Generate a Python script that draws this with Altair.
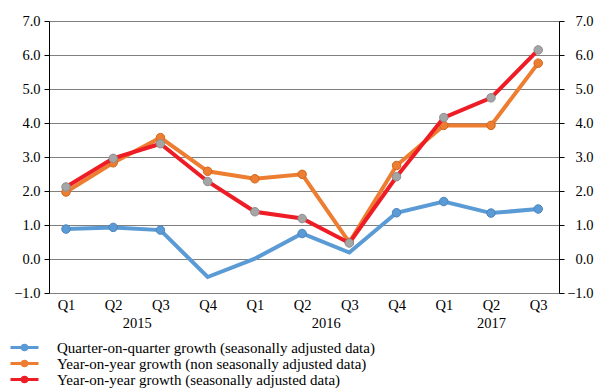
import altair as alt
import pandas as pd

quarters = ["Q1", "Q2", "Q3", "Q4", "Q1", "Q2", "Q3", "Q4", "Q1", "Q2", "Q3"]
years = [2015, 2015, 2015, 2015, 2016, 2016, 2016, 2016, 2017, 2017, 2017]
qoq = [0.88, 0.93, 0.85, -0.53, 0.01, 0.75, 0.19, 1.36, 1.69, 1.35, 1.47]
qoq_marked = [True, True, True, False, False, True, False, True, True, True, True]
yoy_nsa = [1.97, 2.83, 3.57, 2.58, 2.36, 2.49, 0.49, 2.75, 3.93, 3.93, 5.76]
yoy_sa = [2.12, 2.96, 3.39, 2.28, 1.39, 1.19, 0.47, 2.42, 4.16, 4.74, 6.15]

series_names = [
    "Quarter-on-quarter growth (seasonally adjusted data)",
    "Year-on-year growth (non seasonally adjusted data)",
    "Year-on-year growth (seasonally adjusted data)",
]
series_colors = ["#5B9BD5", "#ED7D31", "#EE1C25"]
marker_fill = ["#5B9BD5", "#ED7D31", "#A5A5A5"]
marker_stroke = ["#4A84BD", "#D0681E", "#8E8E8E"]
y_ticks = [-1, 0, 1, 2, 3, 4, 5, 6, 7]

rows = []
for name, vals, marks in zip(series_names, [qoq, yoy_nsa, yoy_sa],
                             [qoq_marked, [True] * len(yoy_nsa), [True] * len(yoy_sa)]):
    for i, (v, m) in enumerate(zip(vals, marks)):
        rows.append({"idx": i, "series": name, "value": v, "marked": m})
df = pd.DataFrame(rows)

year_list = sorted(set(years))
year_pos = [sum(i for i, y in enumerate(years) if y == yr) / years.count(yr) for yr in year_list]
q_expr = "[" + ",".join("'%s'" % q for q in quarters) + "][datum.value]"
y_expr = "{" + ",".join("'%g':'%d'" % (p, yr) for p, yr in zip(year_pos, year_list)) + "}[''+datum.value]"

FONT = "Liberation Serif, Times New Roman, Times, Nimbus Roman, DejaVu Serif, serif"
AX_FS = 14.5
xscale = alt.Scale(domain=[-0.36, 10.44], nice=False, zero=False)
yscale = alt.Scale(domain=[-1, 7], nice=False, zero=False)

x_q = alt.X("idx:Q", scale=xscale, title=None,
            axis=alt.Axis(orient="bottom", values=list(range(len(quarters))), labelExpr=q_expr,
                          grid=False, domain=False, ticks=False, labelPadding=5,
                          labelFont=FONT, labelFontSize=AX_FS, labelColor="#000000"))
x_plain = alt.X("idx:Q", scale=xscale, axis=None)
y_left = alt.Y("value:Q", scale=yscale, title=None,
               axis=alt.Axis(orient="left", values=y_ticks, format=".1f", grid=True,
                             gridColor="#7f7f7f", gridWidth=1, domainColor="#000000",
                             tickColor="#000000", tickSize=5, labelPadding=4,
                             labelFont=FONT, labelFontSize=AX_FS, labelColor="#000000"))
y_plain = alt.Y("value:Q", scale=yscale, axis=None)

legend_path = ("M-2.8,0L2.8,0"
               "M-0.45,0A0.45,0.45,0,1,0,0.45,0A0.45,0.45,0,1,0,-0.45,0"
               "M-0.15,0A0.15,0.15,0,1,0,0.15,0A0.15,0.15,0,1,0,-0.15,0")
leg = alt.Legend(title=None, orient="none", legendX=-40, legendY=319, direction="vertical",
                 symbolType=legend_path, symbolSize=100, symbolStrokeWidth=3,
                 labelFont=FONT, labelFontSize=15, labelColor="#000000", labelOffset=25,
                 rowPadding=-1, padding=0, symbolOffset=8, labelLimit=500)
color_enc = alt.Color("series:N", scale=alt.Scale(domain=series_names, range=series_colors), legend=leg)

base = alt.Chart(df)


def line_layer(k, x_enc, y_enc):
    return base.transform_filter(alt.datum.series == series_names[k]).mark_line(strokeWidth=4).encode(
        x=x_enc, y=y_enc, color=color_enc)


def point_layer(k):
    return base.transform_filter(alt.datum.series == series_names[k]).transform_filter(
        alt.datum.marked).mark_point(
        filled=True, size=72, opacity=1, strokeWidth=1,
        fill=marker_fill[k], stroke=marker_stroke[k]).encode(x=x_plain, y=y_plain)


year_axis = base.mark_point(opacity=0).encode(
    x=alt.X("idx:Q", scale=xscale, title=None,
            axis=alt.Axis(orient="bottom", values=year_pos, labelExpr=y_expr, grid=False,
                          domain=False, ticks=False, labelPadding=23,
                          labelFont=FONT, labelFontSize=AX_FS, labelColor="#000000")),
    y=y_plain)

right_axis = base.mark_point(opacity=0).encode(
    x=x_plain,
    y=alt.Y("value:Q", scale=yscale, title=None,
            axis=alt.Axis(orient="right", values=y_ticks, format=".1f", grid=False,
                          domainColor="#000000", tickColor="#000000", tickSize=5,
                          labelPadding=29, labelAlign="right",
                          labelFont=FONT, labelFontSize=AX_FS, labelColor="#000000")))

chart = alt.layer(
    line_layer(0, x_q, y_left),
    point_layer(0),
    line_layer(1, x_plain, y_plain),
    point_layer(1),
    line_layer(2, x_plain, y_plain),
    point_layer(2),
    year_axis,
    right_axis,
).resolve_axis(x="independent", y="independent").properties(
    width=510, height=272,
    padding={"left": 49, "top": 21, "right": 35, "bottom": 97},
    autosize=alt.AutoSizeParams(type="none"),
).configure_view(stroke=None).configure(background="#ffffff")

chart.save("out.html", embed_options={"renderer": "svg", "actions": False})
